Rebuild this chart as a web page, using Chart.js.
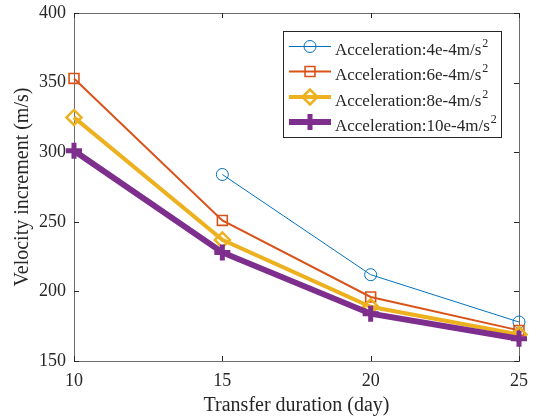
<!DOCTYPE html>
<html><head><meta charset="utf-8">
<script src="https://cdn.jsdelivr.net/npm/chart.js@4/dist/chart.umd.min.js"></script>
<style>html,body{margin:0;padding:0;background:#fff;} #wrap{width:536px;height:418px;}</style>
</head><body><div id="wrap"><canvas id="c" width="536" height="418"></canvas></div>
<script>
const days = [10, 15, 20, 25];
const acc4 = [null, 284, 212, 178];
const acc6 = [353, 251, 196, 172];
const acc8 = [325, 237, 189, 169];
const acc10 = [301, 228, 184, 166];
const seriesLabels = ['Acceleration:4e-4m/s', 'Acceleration:6e-4m/s', 'Acceleration:8e-4m/s', 'Acceleration:10e-4m/s'];
const seriesSup = ['2', '2', '2', '2'];
const xTicks = [10, 15, 20, 25];
const yTicks = [150, 200, 250, 300, 350, 400];
const xTitle = 'Transfer duration (day)';
const yTitle = 'Velocity increment (m/s)';

const FONT = "'Liberation Serif', 'Times New Roman', serif";
const TXT = '#262626';
const toPts = arr => days.map((d, i) => ({x: d, y: arr[i]}));

const styles = [
  {color: '#0072BD', lw: 1, ps: 'circle', r: 6, bw: 1, order: 3},
  {color: '#D95319', lw: 2, ps: 'rect', r: 7, bw: 1.6, order: 2},
  {color: '#EDB120', lw: 4, ps: 'rectRot', r: 7.5, bw: 2.5, order: 1},
  {color: '#7E2F8E', lw: 6, ps: 'cross', r: 8, bw: 5, order: 0}
];
const series = [acc4, acc6, acc8, acc10];

const datasets = series.map((s, i) => ({
  label: seriesLabels[i],
  data: toPts(s),
  borderColor: styles[i].color,
  borderWidth: styles[i].lw,
  pointStyle: styles[i].ps,
  pointRadius: styles[i].r,
  pointHoverRadius: styles[i].r,
  pointBorderColor: styles[i].color,
  pointBackgroundColor: 'rgba(0,0,0,0)',
  pointBorderWidth: styles[i].bw,
  fill: false,
  tension: 0,
  spanGaps: false,
  clip: false,
  order: styles[i].order
}));

const boxPlugin = {
  id: 'box',
  beforeDatasetsDraw(chart) {
    const {ctx, chartArea: a, scales: {x, y}} = chart;
    ctx.save();
    ctx.strokeStyle = '#6b6b6b';
    ctx.lineWidth = 1;
    ctx.strokeRect(Math.round(a.left) + 0.5, Math.round(a.top) + 0.5, Math.round(a.right - a.left), Math.round(a.bottom - a.top));
    const tl = 5;
    ctx.strokeStyle = '#262626';
    ctx.beginPath();
    xTicks.forEach(v => {
      const px = Math.round(x.getPixelForValue(v)) + 0.5;
      ctx.moveTo(px, a.bottom); ctx.lineTo(px, a.bottom - tl);
      ctx.moveTo(px, a.top); ctx.lineTo(px, a.top + tl);
    });
    yTicks.forEach(v => {
      const py = Math.round(y.getPixelForValue(v)) + 0.5;
      ctx.moveTo(a.left, py); ctx.lineTo(a.left + tl, py);
      ctx.moveTo(a.right, py); ctx.lineTo(a.right - tl, py);
    });
    ctx.stroke();
    ctx.restore();
  }
};

const legendPlugin = {
  id: 'customLegend',
  afterDraw(chart) {
    const ctx = chart.ctx;
    const bx = 283.5, by = 31.5, bw = 218, bh = 106;
    ctx.save();
    ctx.fillStyle = '#fff';
    ctx.fillRect(bx, by, bw, bh);
    ctx.strokeStyle = '#262626';
    ctx.lineWidth = 1;
    ctx.strokeRect(bx, by, bw, bh);
    const rows = [46.5, 71.5, 97, 122];
    chart.data.datasets.forEach((ds, i) => {
      const yy = rows[i];
      const st = styles[i];
      ctx.strokeStyle = st.color;
      ctx.lineWidth = st.lw;
      ctx.beginPath();
      ctx.moveTo(289, yy); ctx.lineTo(331, yy);
      ctx.stroke();
      ctx.strokeStyle = st.color;
      ctx.fillStyle = 'rgba(0,0,0,0)';
      ctx.lineWidth = st.bw;
      Chart.helpers.drawPoint(ctx, {pointStyle: st.ps, radius: st.r, rotation: 0, borderWidth: st.bw}, 310, yy);
      ctx.fillStyle = TXT;
      ctx.font = '17px ' + FONT;
      ctx.textBaseline = 'alphabetic';
      ctx.textAlign = 'left';
      ctx.fillText(ds.label, 335, yy + 8.5);
      const w = ctx.measureText(ds.label).width;
      ctx.font = '12px ' + FONT;
      ctx.fillText(seriesSup[i], 335 + w + 1, yy + 0.5);
    });
    ctx.restore();
  }
};

new Chart(document.getElementById('c'), {
  type: 'line',
  data: {datasets},
  plugins: [boxPlugin, legendPlugin],
  options: {
    responsive: false,
    animation: false,
    devicePixelRatio: 1,
    layout: {padding: {left: 0, top: 13, right: 17, bottom: 0}},
    plugins: {legend: {display: false}, tooltip: {enabled: false}},
    scales: {
      x: {
        type: 'linear', min: 10, max: 25,
        afterBuildTicks: s => { s.ticks = xTicks.map(v => ({value: v})); },
        afterFit: s => { s.height = 57; s.paddingLeft = 0; s.paddingRight = 0; },
        grid: {display: false, drawTicks: false},
        border: {display: false},
        ticks: {color: TXT, font: {family: FONT, size: 18}, padding: 9, maxRotation: 0, autoSkip: false},
        title: {display: true, text: xTitle, color: TXT, font: {family: FONT, size: 20}, padding: {top: 0, bottom: 0}}
      },
      y: {
        type: 'linear', min: 150, max: 400,
        afterBuildTicks: s => { s.ticks = yTicks.map(v => ({value: v})); },
        afterFit: s => { s.width = 74; s.paddingTop = 0; s.paddingBottom = 0; },
        grid: {display: false, drawTicks: false},
        border: {display: false},
        ticks: {color: TXT, font: {family: FONT, size: 18}, padding: 8, autoSkip: false},
        title: {display: true, text: yTitle, color: TXT, font: {family: FONT, size: 20}, padding: {top: 11, bottom: 0}}
      }
    }
  }
});
</script>
</body></html>
